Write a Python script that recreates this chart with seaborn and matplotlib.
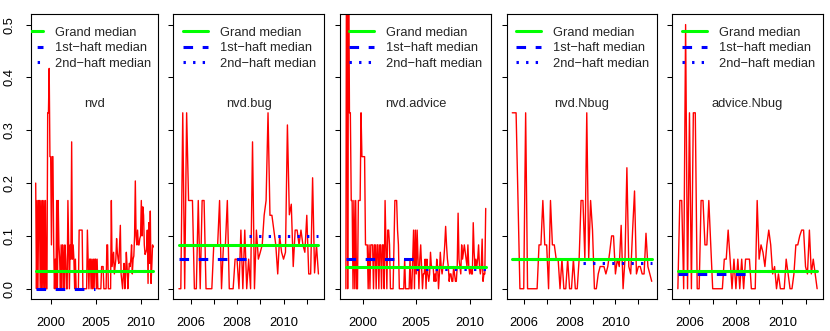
import numpy as np
import pandas as pd
import matplotlib
matplotlib.use("Agg")
import matplotlib.pyplot as plt
import seaborn as sns
from matplotlib.lines import Line2D

sns.set_style("ticks")
plt.rcParams['font.family'] = ['Liberation Sans', 'DejaVu Sans']
plt.rcParams['lines.scale_dashes'] = False

# ---------------- data ----------------
panel_names = ["nvd", "nvd.bug", "nvd.advice", "nvd.Nbug", "advice.Nbug"]
start_year_month = [(1998, 5), (2005, 7), (1998, 6), (2005, 7), (2005, 7)]

nvd = [
    0.2, 0, 0.167, 0, 0.167, 0.167, 0, 0.167,
    0, 0.167, 0, 0.167, 0, 0.167, 0, 0, 0.333, 0.333, 0.417, 0.25,
    0.25, 0.083, 0.25, 0.25, 0.083, 0, 0.056, 0, 0.167, 0, 0.167, 0.083,
    0.056, 0, 0.083, 0, 0.083, 0.056, 0, 0.083, 0.056, 0, 0, 0.167,
    0.083, 0, 0.083, 0.056, 0.278, 0.056, 0.083, 0.056, 0, 0.056, 0, 0,
    0, 0, 0.111, 0.111, 0.111, 0.111, 0.111, 0, 0, 0, 0, 0,
    0, 0.111, 0.056, 0, 0.056, 0.056, 0, 0.056, 0, 0.056, 0, 0.056,
    0.056, 0, 0.056, 0, 0, 0, 0, 0, 0.042, 0.042, 0.042, 0,
    0, 0, 0, 0.083, 0.083, 0, 0, 0, 0, 0.167, 0.042, 0.056,
    0.069, 0.028, 0.042, 0.056, 0.095, 0.069, 0.056, 0.048, 0.083, 0.12, 0.028, 0.014,
    0, 0.028, 0.048, 0, 0.028, 0.069, 0.042, 0, 0.028, 0.048, 0.042, 0.056,
    0.083, 0.028, 0.056, 0.062, 0.1, 0.204, 0.1, 0.083, 0.111, 0.083, 0.083, 0.095,
    0.1, 0.167, 0.1, 0.155, 0.139, 0.083, 0.065, 0.069, 0.074, 0.111, 0.01, 0.125,
    0.048, 0.147, 0.01, 0.042, 0.083, 0.079,
]

nvd_bug = [
    0, 0, 0.333, 0, 0.333, 0.167, 0.167, 0.167, 0, 0,
    0.167, 0, 0.167, 0.167, 0, 0, 0, 0, 0.083, 0.083,
    0.083, 0.167, 0, 0.083, 0.083, 0.167, 0, 0, 0, 0.056,
    0.056, 0, 0.111, 0, 0.111, 0, 0.056, 0, 0.278, 0,
    0.111, 0.056, 0.069, 0.083, 0.139, 0.167, 0.333, 0.139, 0.139, 0.111,
    0.083, 0.028, 0.1, 0.069, 0.056, 0.069, 0.31, 0.14, 0.16, 0.042,
    0.111, 0.111, 0.083, 0.111, 0.083, 0.069, 0.139, 0.028, 0.028, 0.21,
    0.03, 0.083, 0.028,
]

nvd_advice = [
    0, 1.0, 0, 0.667, 0.333, 0.333, 0.167, 0.167, 0, 0.167,
    0, 0.167, 0, 0, 0.167, 0.167, 0.167, 0.333, 0.25, 0.25,
    0.25, 0.25, 0.083, 0.083, 0.083, 0, 0.083, 0, 0.083, 0.083,
    0.083, 0, 0.083, 0.083, 0, 0.083, 0.083, 0, 0.083, 0.083,
    0, 0.083, 0.083, 0, 0.167, 0.083, 0, 0.111, 0.111, 0.083,
    0, 0, 0, 0, 0.083, 0.167, 0.167, 0.167, 0.111, 0.083,
    0, 0, 0, 0, 0, 0, 0.056, 0, 0, 0,
    0, 0, 0.056, 0, 0, 0.056, 0.111, 0, 0.111, 0.028,
    0.111, 0.056, 0, 0.056, 0.083, 0.042, 0, 0.028, 0.028, 0.056,
    0, 0.056, 0.028, 0.014, 0.028, 0.069, 0.042, 0.042, 0.042, 0.014,
    0.028, 0.014, 0.056, 0.042, 0, 0.028, 0.069, 0.042, 0.028, 0.042,
    0.056, 0.083, 0.118, 0.083, 0.056, 0.042, 0.014, 0.028, 0.028, 0.014,
    0.014, 0.042, 0.028, 0.014, 0.014, 0.042, 0.143, 0.056, 0.042, 0.028,
    0.083, 0.056, 0.069, 0.083, 0.069, 0.056, 0.042, 0.083, 0.042, 0.028,
    0.042, 0.028, 0.028, 0.125, 0.069, 0.042, 0.056, 0.042, 0.056, 0.083,
    0.042, 0.028, 0.042, 0.094, 0.014, 0.028, 0.028, 0.152,
]

nvd_nbug = [
    0.333, 0.333, 0.333, 0.167, 0, 0, 0, 0.333, 0, 0,
    0, 0, 0, 0, 0.083, 0.083, 0.167, 0.083, 0.083, 0,
    0.167, 0.083, 0.083, 0.056, 0.056, 0, 0.056, 0, 0, 0.056,
    0, 0, 0.056, 0, 0, 0.056, 0.167, 0.167, 0.056, 0.333,
    0.056, 0.167, 0.111, 0, 0, 0.028, 0.042, 0.042, 0.042, 0.028,
    0.042, 0.069, 0.1, 0.1, 0.028, 0.056, 0.042, 0.12, 0, 0.056,
    0.229, 0.042, 0.028, 0.111, 0.185, 0.028, 0.042, 0.042, 0.028, 0.028,
    0.105, 0.042, 0.028, 0.014,
]

advice_nbug = [
    0, 0.167, 0.167, 0, 0.5, 0, 0.333, 0, 0.333, 0.333,
    0, 0, 0.167, 0.167, 0.083, 0.083, 0.167, 0.083, 0, 0,
    0, 0, 0, 0, 0.056, 0.056, 0.111, 0.056, 0, 0.056,
    0, 0.056, 0, 0.056, 0, 0.056, 0.056, 0.056, 0, 0,
    0, 0.167, 0.056, 0.083, 0.069, 0.042, 0.083, 0.111, 0.083, 0.028,
    0.042, 0, 0.028, 0, 0, 0, 0.056, 0.028, 0, 0,
    0.028, 0.083, 0.083, 0.1, 0.111, 0.111, 0.042, 0.028, 0.111, 0.028,
    0.056, 0.028, 0,
]

series_values = [nvd, nvd_bug, nvd_advice, nvd_nbug, advice_nbug]

grand_median = [0.0333, 0.0833, 0.0417, 0.0556, 0.0333]
first_half_median = [0.0, 0.0556, 0.0556, 0.0556, 0.0278]
second_half_median = [0.0333, 0.1, 0.038, 0.048, 0.0333]

legend_labels = ["Grand median", "1st\u2212haft median", "2nd\u2212haft median"]
y_ticks = [0.0, 0.1, 0.2, 0.3, 0.4, 0.5]
x_ticks = [[2000, 2005, 2010], [2006, 2007, 2008, 2009, 2010, 2011],
           [2000, 2005, 2010], [2006, 2007, 2008, 2009, 2010, 2011],
           [2006, 2007, 2008, 2009, 2010, 2011]]

# ---------------- layout ----------------
W, H = 830, 331
fig = plt.figure(figsize=(W / 100, H / 100), dpi=100)
lefts = [31, 173.3, 340.3, 506.7, 672.3]
rights = [158, 324, 491.3, 657.3, 822.7]
top_px, bot_px = 14, 299.3
legend_dx = [-12.8, 9.5, 9.0, 9.0, 9.4]   # px from box left to legend handle start
legend_dy = 12.5                          # px from box top to legend top

RED, GREEN, BLUE = "#FF0000", "#00FF00", "#0000FF"
FS = 9.3

for k in range(5):
    ax = fig.add_axes([lefts[k] / W, 1 - bot_px / H,
                       (rights[k] - lefts[k]) / W, (bot_px - top_px) / H])
    y0, m0 = start_year_month[k]
    vals = np.array(series_values[k], dtype=float)
    n = len(vals)
    t = y0 + (m0 - 1) / 12 + np.arange(n) / 12
    df = pd.DataFrame({"time": t, "value": vals})
    sns.lineplot(data=df, x="time", y="value", ax=ax, color=RED, lw=1.0,
                 estimator=None, sort=False, zorder=2)
    h = n // 2
    ax.plot([t[0], t[h]], [first_half_median[k]] * 2, color=BLUE, lw=2.2,
            dashes=(6.9, 6.9), dash_capstyle='butt', zorder=3)
    ax.plot([t[h], t[-1]], [second_half_median[k]] * 2, color=BLUE, lw=2.2,
            dashes=(1.7, 5.2), dash_capstyle='butt', zorder=3)
    ax.plot([t[0], t[-1]], [grand_median[k]] * 2, color=GREEN, lw=2.2,
            solid_capstyle='round', zorder=4)

    r = t[-1] - t[0]
    ax.set_xlim(t[0] - 0.04 * r, t[-1] + 0.04 * r)
    ax.set_ylim(-0.02, 0.52)
    ax.set_xlabel("")
    ax.set_ylabel("")

    ax.set_xticks(x_ticks[k])
    if len(x_ticks[k]) == 3:
        ax.set_xticklabels([str(v) for v in x_ticks[k]])
    else:
        ax.set_xticklabels([str(v) if v % 2 == 0 else "" for v in x_ticks[k]])
    ax.set_yticks(y_ticks)
    if k == 0:
        ax.set_yticklabels([f"{v:.1f}" for v in y_ticks], rotation=90, va='center')
    else:
        ax.set_yticklabels([])
    ax.tick_params(axis='both', direction='out', length=3.6, width=0.75,
                   labelsize=FS, colors='black')
    ax.tick_params(axis='x', pad=9)
    ax.tick_params(axis='y', pad=7.5)
    for sp in ax.spines.values():
        sp.set_visible(True)
        sp.set_color('black')
        sp.set_linewidth(0.8)
    ax.set_facecolor('white')

    ax.text((t[0] + t[-1]) / 2, 0.35, panel_names[k], ha='center', va='center',
            fontsize=FS)

    handles = [Line2D([], [], color=GREEN, lw=2.2),
               Line2D([], [], color=BLUE, lw=2.2, dashes=(6.9, 6.9), dash_capstyle='butt'),
               Line2D([], [], color=BLUE, lw=2.2, dashes=(1.7, 5.2), dash_capstyle='butt')]
    anchor = ((lefts[k] + legend_dx[k]) / W, 1 - (top_px + legend_dy) / H)
    leg = ax.legend(handles, legend_labels, loc='upper left', frameon=False,
                    fontsize=FS, handlelength=1.94, handletextpad=0.93,
                    borderaxespad=0, borderpad=0, labelspacing=0.27,
                    bbox_to_anchor=anchor, bbox_transform=fig.transFigure)
    for ln in leg.get_lines():
        ln.set_clip_box(ax.bbox)
        ln.set_clip_on(True)

fig.savefig("out.png", dpi=100, facecolor='white')
